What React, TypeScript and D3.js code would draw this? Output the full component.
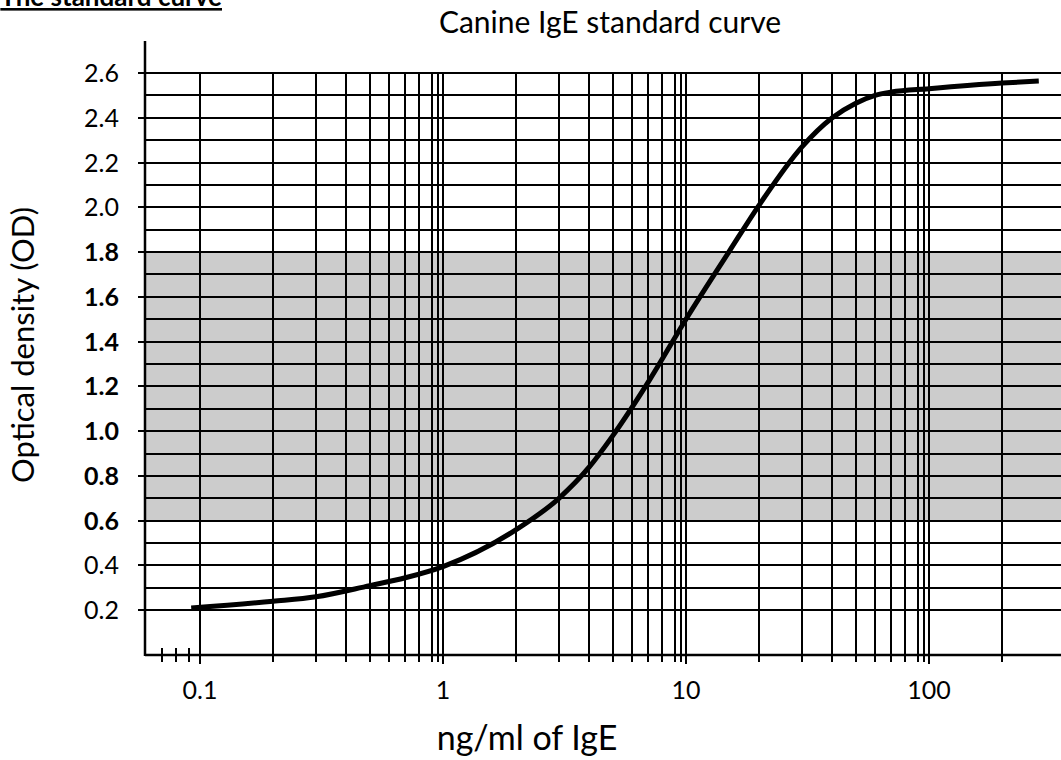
import React, { useRef, useEffect } from 'react';
import * as d3 from 'd3';

// standard curve readings (ng/ml vs OD)
const concentrations = [0.092, 0.2, 0.3, 0.5, 0.7, 1, 2, 3, 4, 5, 7, 10, 15, 20, 30, 40, 50, 60, 70, 100, 200, 283];
const odValues = [0.21, 0.24, 0.26, 0.31, 0.345, 0.395, 0.56, 0.7, 0.84, 0.98, 1.22, 1.5, 1.8, 2.01, 2.27, 2.4, 2.465, 2.5, 2.515, 2.53, 2.555, 2.564];

const xGridValues = [0.1, 0.2, 0.3, 0.4, 0.5, 0.6, 0.7, 0.8, 0.9, 0.95, 1, 2, 3, 4, 5, 6, 7, 8, 9, 9.5, 10, 20, 30, 40, 50, 60, 70, 80, 90, 95, 100, 200];
const xMinorTicks = [0.07, 0.08, 0.09];
const xTickLabels = [0.1, 1, 10, 100];
const yGridValues = [0.2, 0.3, 0.4, 0.5, 0.6, 0.7, 0.8, 0.9, 1.0, 1.1, 1.2, 1.3, 1.4, 1.5, 1.6, 1.7, 1.8, 1.9, 2.0, 2.1, 2.2, 2.3, 2.4, 2.5, 2.6];
const yTickLabels = [0.2, 0.4, 0.6, 0.8, 1.0, 1.2, 1.4, 1.6, 1.8, 2.0, 2.2, 2.4, 2.6];
const boldRange = [0.6, 1.8];

const FONT = "Lato, 'Open Sans', sans-serif";

const StandardCurve = () => {
  const svgRef = useRef(null);

  useEffect(() => {
    const svg = d3.select(svgRef.current);
    const width = 1061;
    const axisX = 145;
    const axisTop = 41;

    const x = d3.scaleLog().domain([0.1, 100]).range([200, 929]);
    const y = d3.scaleLinear().domain([0, 2.6]).range([655, 73]);
    const baseY = y(0);

    svg.selectAll('*').remove();

    // grey working range
    svg.append('rect')
      .attr('x', axisX)
      .attr('y', y(boldRange[1]))
      .attr('width', width - axisX)
      .attr('height', y(boldRange[0]) - y(boldRange[1]))
      .attr('fill', '#cccccc');

    const grid = svg.append('g').attr('stroke', '#000').attr('stroke-width', 2);

    grid.selectAll('.hgrid')
      .data(yGridValues)
      .join('line')
      .attr('x1', d => (yTickLabels.includes(d) ? axisX - 7 : axisX))
      .attr('x2', width)
      .attr('y1', d => Math.round(y(d)))
      .attr('y2', d => Math.round(y(d)));

    grid.selectAll('.vgrid')
      .data(xGridValues)
      .join('line')
      .attr('x1', d => Math.round(x(d)))
      .attr('x2', d => Math.round(x(d)))
      .attr('y1', y(2.6))
      .attr('y2', d => (xTickLabels.includes(d) ? baseY + 9 : baseY + 7));

    svg.append('g')
      .attr('stroke', '#000')
      .attr('stroke-width', 2)
      .selectAll('line')
      .data(xMinorTicks)
      .join('line')
      .attr('x1', d => Math.round(x(d)))
      .attr('x2', d => Math.round(x(d)))
      .attr('y1', baseY - 7)
      .attr('y2', baseY + 7);

    // axes
    svg.append('line')
      .attr('x1', axisX).attr('x2', axisX)
      .attr('y1', axisTop).attr('y2', baseY + 1)
      .attr('stroke', '#000').attr('stroke-width', 2.5);
    svg.append('line')
      .attr('x1', axisX).attr('x2', width)
      .attr('y1', baseY).attr('y2', baseY)
      .attr('stroke', '#000').attr('stroke-width', 2.5);

    // curve
    const line = d3.line()
      .x(d => x(d[0]))
      .y(d => y(d[1]))
      .curve(d3.curveMonotoneX);

    svg.append('path')
      .datum(concentrations.map((c, i) => [c, odValues[i]]))
      .attr('fill', 'none')
      .attr('stroke', '#000')
      .attr('stroke-width', 5)
      .attr('d', line);

    // y tick labels
    svg.append('g')
      .selectAll('text')
      .data(yTickLabels)
      .join('text')
      .attr('x', 119)
      .attr('y', d => y(d))
      .attr('dy', '0.36em')
      .attr('text-anchor', 'end')
      .attr('font-family', FONT)
      .attr('font-size', 25)
      .attr('font-weight', d => (d >= boldRange[0] - 1e-9 && d <= boldRange[1] + 1e-9 ? 'bold' : 'normal'))
      .attr('fill', '#000')
      .text(d => d.toFixed(1));

    // x tick labels
    svg.append('g')
      .selectAll('text')
      .data(xTickLabels)
      .join('text')
      .attr('x', d => x(d))
      .attr('y', 699)
      .attr('text-anchor', 'middle')
      .attr('font-family', FONT)
      .attr('font-size', 25)
      .attr('fill', '#000')
      .text(d => String(d));

    svg.append('text')
      .attr('x', 610)
      .attr('y', 33)
      .attr('text-anchor', 'middle')
      .attr('font-family', FONT)
      .attr('font-size', 30)
      .text('Canine IgE standard curve');

    svg.append('text')
      .attr('x', 527)
      .attr('y', 750)
      .attr('text-anchor', 'middle')
      .attr('font-family', FONT)
      .attr('font-size', 34)
      .text('ng/ml of IgE');

    svg.append('text')
      .attr('transform', 'translate(34,345) rotate(-90)')
      .attr('text-anchor', 'middle')
      .attr('font-family', FONT)
      .attr('font-size', 31)
      .text('Optical density (OD)');

    svg.append('text')
      .attr('x', 222)
      .attr('y', 6)
      .attr('text-anchor', 'end')
      .attr('font-family', FONT)
      .attr('font-size', 26)
      .attr('font-weight', 'bold')
      .attr('text-decoration', 'underline')
      .text('The standard curve');
  }, []);

  return <svg ref={svgRef} width={1061} height={760} style={{ position: 'absolute', left: 0, top: 0, display: 'block', background: '#fff' }}></svg>;
};

export default function App() {
  return <StandardCurve />;
}
